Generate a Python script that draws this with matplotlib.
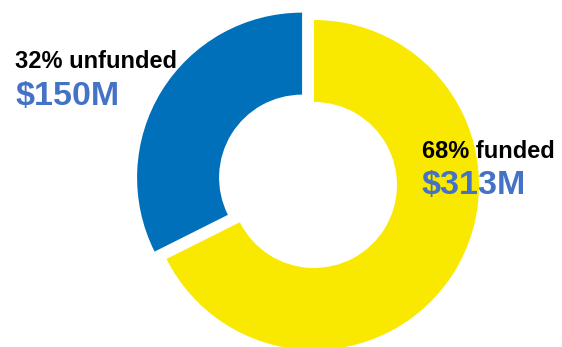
import matplotlib.pyplot as plt

labels = ['68% funded', '32% unfunded']
amounts = ['$313M', '$150M']
values = [313, 150]
colors = ['#F9E900', '#0070BA']

W, H = 562, 347
fig = plt.figure(figsize=(W / 100, H / 100), dpi=100)
ax = fig.add_axes([0, 0, 1, 1])

ax.pie(values, colors=colors, startangle=90, counterclock=False,
       center=(314, H - 185), radius=165, explode=[0, 14],
       wedgeprops=dict(width=82, linewidth=0))

ax.set_xlim(0, W)
ax.set_ylim(0, H)
ax.set_aspect('equal')
ax.axis('off')

font = 'Liberation Sans'
# label positions (x, baseline) in pixels from the top left
pos = [(422, 158, 194), (15, 68, 105)]
for lab, amt, (x, y1, y2) in zip(labels, amounts, pos):
    ax.text(x, H - y1, lab, fontsize=17, fontweight='bold', family=font,
            color='black', va='baseline', ha='left')
    ax.text(x, H - y2, amt, fontsize=24.5, fontweight='bold', family=font,
            color='#4472C4', va='baseline', ha='left')

fig.savefig('out.png', dpi=100)
